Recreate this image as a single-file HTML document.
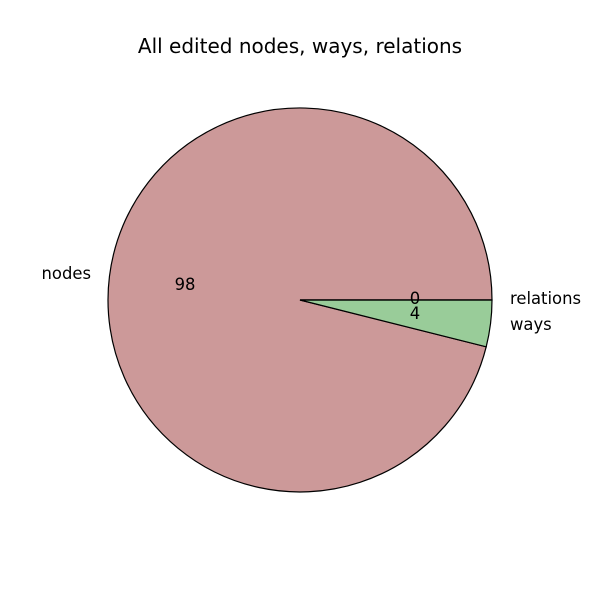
<!DOCTYPE html>
<html><head><meta charset="utf-8"><style>
html,body{margin:0;padding:0;background:#fff;}
svg{display:block;}
text{font-family:"DejaVu Sans","Liberation Sans",sans-serif;fill:#000;}
</style></head><body>
<svg width="600" height="600" viewBox="0 0 600 600" xmlns="http://www.w3.org/2000/svg">
<rect width="600" height="600" fill="#fff"/>
<text x="300" y="53" font-size="20" text-anchor="middle">All edited nodes, ways, relations</text>
<path d="M300,300 L486.2,346.8 A192,192 0 1 1 492,300 Z" fill="#cc9999" stroke="#000" stroke-width="1.2"/>
<path d="M300,300 L492,300 A192,192 0 0 1 486.2,346.8 Z" fill="#99cc99" stroke="#000" stroke-width="1.2"/>
<line x1="300" y1="300" x2="492" y2="300" stroke="#000" stroke-width="1.2"/>
<text x="185" y="290" font-size="16.4" text-anchor="middle">98</text>
<text x="415" y="304" font-size="16.4" text-anchor="middle">0</text>
<text x="415" y="319" font-size="16.4" text-anchor="middle">4</text>
<text x="91" y="279" font-size="16.4" text-anchor="end">nodes</text>
<text x="510" y="304" font-size="16.4">relations</text>
<text x="510" y="330" font-size="16.4">ways</text>
</svg>
</body></html>
